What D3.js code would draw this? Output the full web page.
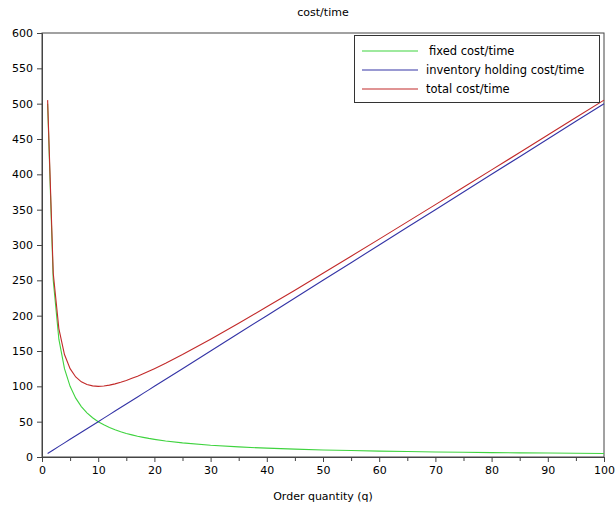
<!DOCTYPE html>
<html>
<head>
<meta charset="utf-8">
<script src="https://cdn.jsdelivr.net/npm/d3@7"></script>
<style>
  body { margin: 0; background: #fff; }
  svg text { font-family: "DejaVu Sans", sans-serif; fill: #000; }
</style>
</head>
<body>
<svg width="616" height="506"></svg>
<script>
// order quantities where values were read
var qValues = [1, 2, 3, 4, 5, 6, 7, 8, 9, 10, 11, 12, 13, 14, 15, 16, 17, 18, 19, 20,
               22, 25, 30, 35, 40, 45, 50, 55, 60, 65, 70, 75, 80, 85, 90, 95, 100];
var fixedCost = [500, 250, 166.7, 125, 100, 83.3, 71.4, 62.5, 55.6, 50, 45.5, 41.7, 38.5, 35.7, 33.3, 31.3, 29.4, 27.8, 26.3, 25,
                 22.7, 20, 16.7, 14.3, 12.5, 11.1, 10, 9.1, 8.3, 7.7, 7.1, 6.7, 6.25, 5.9, 5.6, 5.3, 5];
var holdingCost = [5, 10, 15, 20, 25, 30, 35, 40, 45, 50, 55, 60, 65, 70, 75, 80, 85, 90, 95, 100,
                   110, 125, 150, 175, 200, 225, 250, 275, 300, 325, 350, 375, 400, 425, 450, 475, 500];
var totalCost = [505, 260, 181.7, 145, 125, 113.3, 106.4, 102.5, 100.6, 100, 100.5, 101.7, 103.5, 105.7, 108.3, 111.3, 114.4, 117.8, 121.3, 125,
                 132.7, 145, 166.7, 189.3, 212.5, 236.1, 260, 284.1, 308.3, 332.7, 357.1, 381.7, 406.3, 430.9, 455.6, 480.3, 505];
var seriesNames = ["fixed cost/time", "inventory holding cost/time", "total cost/time"];
var seriesColors = ["#3fd33f", "#3434a6", "#c22a2a"];
var xTicks = [0, 10, 20, 30, 40, 50, 60, 70, 80, 90, 100];
var yTicks = [0, 50, 100, 150, 200, 250, 300, 350, 400, 450, 500, 550, 600];

function main() {
    var svg = d3.select("svg");
    var left = 42, right = 604, top = 33, bottom = 457;

    var xScale = d3.scaleLinear().domain([0, 100]).range([left, right]);
    var yScale = d3.scaleLinear().domain([0, 600]).range([bottom, top]);

    // Title
    svg.append("text")
        .attr("x", 323).attr("y", 16)
        .attr("text-anchor", "middle")
        .attr("font-size", "11px")
        .text("cost/time");

    // Frame
    svg.append("rect")
        .attr("x", left).attr("y", top)
        .attr("width", right - left).attr("height", bottom - top)
        .attr("fill", "none").attr("stroke", "#444").attr("stroke-width", 1);

    // Lines
    var allSeries = [fixedCost, holdingCost, totalCost];
    var line = d3.line()
        .x(function(d, i) { return xScale(qValues[i]); })
        .y(function(d) { return yScale(d); });
    var g = svg.append("g");
    allSeries.forEach(function(vals, k) {
        g.append("path")
            .attr("d", line(vals))
            .attr("fill", "none")
            .attr("stroke", seriesColors[k])
            .attr("stroke-width", 1.1);
    });

    // X axis with minor ticks
    var xAxis = svg.append("g")
        .attr("transform", "translate(0," + bottom + ")")
        .call(d3.axisBottom(xScale).tickValues(xTicks).tickSize(5).tickPadding(4).tickFormat(d3.format("d")));
    svg.append("g")
        .attr("transform", "translate(0," + bottom + ")")
        .call(d3.axisBottom(xScale).tickValues(d3.range(5, 100, 10)).tickSize(4).tickFormat(""))
        .select(".domain").remove();

    // Y axis
    var yAxis = svg.append("g")
        .attr("transform", "translate(" + left + ",0)")
        .call(d3.axisLeft(yScale).tickValues(yTicks).tickSize(5).tickPadding(4).tickFormat(d3.format("d")));

    [xAxis, yAxis].forEach(function(a) {
        a.selectAll("text").attr("font-size", "11px").attr("font-family", "DejaVu Sans, sans-serif");
        a.select(".domain").attr("stroke", "#444");
    });
    svg.selectAll(".tick line").attr("stroke", "#444");

    // X label
    svg.append("text")
        .attr("x", 323).attr("y", 500)
        .attr("text-anchor", "middle")
        .attr("font-size", "11px")
        .text("Order quantity (q)");

    // Legend
    var legend = svg.append("g");
    legend.append("rect")
        .attr("x", 354.5).attr("y", 35.5)
        .attr("width", 245).attr("height", 67)
        .attr("fill", "#fff").attr("stroke", "#333");
    seriesNames.forEach(function(name, k) {
        var ly = 51 + k * 19;
        legend.append("line")
            .attr("x1", 362).attr("x2", 418)
            .attr("y1", ly).attr("y2", ly)
            .attr("stroke", seriesColors[k]).attr("stroke-width", 1.1);
        legend.append("text")
            .attr("x", k === 0 ? 429 : 426).attr("y", ly + 4)
            .attr("font-size", "11.5px")
            .text(name);
    });
}
main();
</script>
</body>
</html>
